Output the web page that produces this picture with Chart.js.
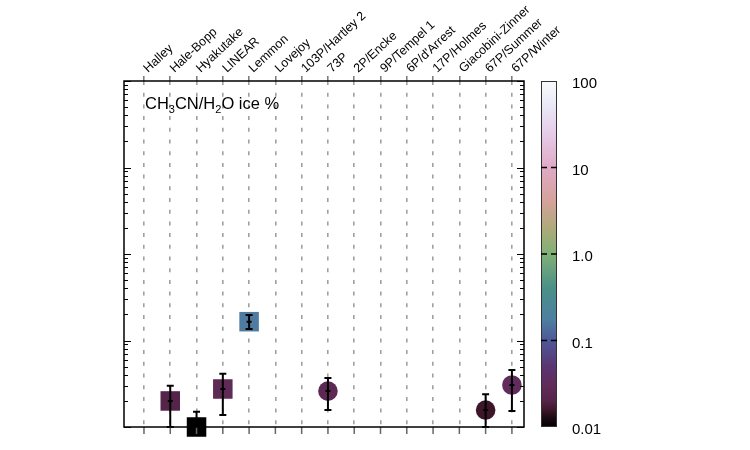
<!DOCTYPE html>
<html>
<head>
<meta charset="utf-8">
<script src="https://cdn.jsdelivr.net/npm/chart.js@4.4.1/dist/chart.umd.min.js"></script>
<style>
  html, body { margin: 0; padding: 0; background: #fff; }
</style>
</head>
<body>
<canvas id="chart" width="750" height="450"></canvas>
<script>
// comets along the top axis
const comets = ['Halley', 'Hale-Bopp', 'Hyakutake', 'LINEAR', 'Lemmon', 'Lovejoy',
  '103P/Hartley 2', '73P', '2P/Encke', '9P/Tempel 1', "6P/d'Arrest", '17P/Holmes',
  'Giacobini-Zinner', '67P/Summer', '67P/Winter'];

// CH3CN/H2O ice % (null = no measurement)
const ratio   = [null, 0.020, 0.010, 0.0275, 0.165, null, null, 0.026, null, null, null, null, null, 0.0157, 0.0306];
const errLow  = [null, 0.010, 0.010, 0.0138, 0.136, null, null, 0.0157, null, null, null, null, null, 0.010, 0.0153];
const errHigh = [null, 0.030, 0.015, 0.0413, 0.197, null, null, 0.0368, null, null, null, null, null, 0.0239, 0.0456];

// colour bar ticks
const barTicks = [0.01, 0.1, 1, 10, 100];
const barLabels = ['0.01', '0.1', '1.0', '10', '100'];

const FONT = "'Liberation Sans', Arial, Helvetica, sans-serif";
const markerShape = ['rect', 'rect', 'rect', 'rect', 'rect', 'rect', 'circle', 'circle',
  'circle', 'circle', 'circle', 'circle', 'circle', 'circle', 'circle'];

// colour map stops: position on log scale (0 = 0.01, 1 = 100)
const cmap = [
  [0.000, '#000000'],
  [0.028, '#1c0b14'],
  [0.050, '#40172b'],
  [0.075, '#55244a'],
  [0.120, '#612c5a'],
  [0.175, '#5a3572'],
  [0.250, '#4f5799'],
  [0.310, '#4e7fa0'],
  [0.400, '#4a9088'],
  [0.500, '#80b076'],
  [0.575, '#aeaa7a'],
  [0.650, '#d4a29a'],
  [0.750, '#dfaac6'],
  [0.850, '#e6cce8'],
  [0.930, '#eae8f6'],
  [1.000, '#f8fbfc']
];

function hexRgb(h) {
  return [parseInt(h.slice(1, 3), 16), parseInt(h.slice(3, 5), 16), parseInt(h.slice(5, 7), 16)];
}

function colorFor(v) {
  const t = Math.min(1, Math.max(0, (Math.log10(v) + 2) / 4));
  for (let i = 1; i < cmap.length; i++) {
    if (t <= cmap[i][0]) {
      const a = cmap[i - 1], b = cmap[i];
      const f = (t - a[0]) / (b[0] - a[0]);
      const ca = hexRgb(a[1]), cb = hexRgb(b[1]);
      const c = ca.map((x, k) => Math.round(x + (cb[k] - x) * f));
      return `rgb(${c[0]},${c[1]},${c[2]})`;
    }
  }
  return cmap[cmap.length - 1][1];
}

const idx = ratio.map((v, i) => i).filter(i => ratio[i] !== null);

const extras = {
  id: 'extras',
  afterDatasetsDraw(chart) {
    const ctx = chart.ctx;
    const xs = chart.scales.x, ys = chart.scales.y;
    ctx.save();
    ctx.strokeStyle = '#000';
    ctx.lineWidth = 2;
    idx.forEach(i => {
      const x = xs.getPixelForValue(i);
      const y0 = ys.getPixelForValue(errLow[i]);
      const y1 = ys.getPixelForValue(errHigh[i]);
      const yc = ys.getPixelForValue(ratio[i]);
      ctx.beginPath();
      ctx.moveTo(x, y0); ctx.lineTo(x, y1);
      ctx.moveTo(x - 3.5, y0); ctx.lineTo(x + 3.5, y0);
      ctx.moveTo(x - 3.5, y1); ctx.lineTo(x + 3.5, y1);
      ctx.moveTo(x - 2.5, yc); ctx.lineTo(x + 2.5, yc);
      ctx.stroke();
    });
    ctx.restore();
  },
  afterDraw(chart) {
    const ctx = chart.ctx;
    const a = chart.chartArea;
    const xs = chart.scales.x, ys = chart.scales.y;
    ctx.save();

    // inward log ticks on left and right
    ctx.strokeStyle = '#000';
    ctx.lineWidth = 1;
    for (let d = -2; d <= 2; d++) {
      for (let k = 1; k <= 9; k++) {
        const v = k * Math.pow(10, d);
        if (v > 100) break;
        const y = Math.round(ys.getPixelForValue(v)) + 0.5;
        const len = k === 1 ? 7 : 4;
        ctx.beginPath();
        ctx.moveTo(a.left, y); ctx.lineTo(a.left + len, y);
        ctx.moveTo(a.right, y); ctx.lineTo(a.right - len, y);
        ctx.stroke();
      }
    }

    // bottom ticks (outward)
    ctx.strokeStyle = '#666';
    ctx.lineWidth = 1.5;
    comets.forEach((c, i) => {
      const x = xs.getPixelForValue(i);
      ctx.beginPath();
      ctx.moveTo(x, a.bottom); ctx.lineTo(x, a.bottom + 7);
      ctx.stroke();
    });

    // frame
    ctx.strokeStyle = '#000';
    ctx.lineWidth = 1.5;
    ctx.strokeRect(a.left, a.top, a.right - a.left, a.bottom - a.top);

    // colour bar
    const bx = 541, bw = 16;
    const top = ys.getPixelForValue(100), bot = ys.getPixelForValue(0.01);
    const g = ctx.createLinearGradient(0, bot, 0, top);
    cmap.forEach(s => g.addColorStop(s[0], s[1]));
    ctx.fillStyle = g;
    ctx.fillRect(bx, top, bw, bot - top);
    ctx.strokeStyle = '#333';
    ctx.lineWidth = 1;
    ctx.strokeRect(bx + 0.5, top + 0.5, bw - 1, bot - top - 1);
    ctx.fillStyle = '#000';
    ctx.font = '15px ' + FONT;
    ctx.textAlign = 'left';
    ctx.textBaseline = 'middle';
    barTicks.forEach((v, i) => {
      const y = ys.getPixelForValue(v);
      if (v > 0.01 && v < 100) {
        ctx.strokeStyle = '#000';
        ctx.lineWidth = 1.5;
        ctx.beginPath();
        ctx.moveTo(bx, y); ctx.lineTo(bx + 6, y);
        ctx.moveTo(bx + bw - 6, y); ctx.lineTo(bx + bw, y);
        ctx.stroke();
      }
      ctx.fillText(barLabels[i], 572, y + 3);
    });

    // label with subscripts
    const parts = [['CH', 0], ['3', 1], ['CN/H', 0], ['2', 1], ['O ice %', 0]];
    let tx = 145;
    const ty = 109;
    ctx.textBaseline = 'alphabetic';
    parts.forEach(p => {
      ctx.font = (p[1] ? '11px ' : '16.5px ') + FONT;
      ctx.fillText(p[0], tx, ty + (p[1] ? 4 : 0));
      tx += ctx.measureText(p[0]).width;
    });
    ctx.restore();
  }
};

new Chart(document.getElementById('chart'), {
  type: 'scatter',
  data: {
    datasets: [{
      data: idx.map(i => ({ x: i, y: ratio[i] })),
      pointStyle: idx.map(i => markerShape[i]),
      pointRadius: idx.map(i => markerShape[i] === 'rect' ? 13.8 : 9.8),
      pointHoverRadius: idx.map(i => markerShape[i] === 'rect' ? 13.8 : 9.8),
      backgroundColor: idx.map(i => colorFor(ratio[i])),
      borderWidth: 0,
      clip: false
    }]
  },
  plugins: [extras],
  options: {
    responsive: false,
    animation: false,
    devicePixelRatio: 1,
    layout: { padding: { left: 124, right: 226, top: 0, bottom: 23 } },
    plugins: { legend: { display: false }, tooltip: { enabled: false } },
    scales: {
      x: {
        type: 'linear',
        position: 'top',
        min: -0.76,
        max: 14.46,
        afterBuildTicks: s => { s.ticks = comets.map((c, i) => ({ value: i })); },
        afterFit: s => { s.height = 81; },
        ticks: {
          callback: v => comets[v],
          minRotation: 43,
          maxRotation: 43,
          autoSkip: false,
          padding: 0,
          labelOffset: 12,
          color: '#000',
          font: { family: FONT, size: 12.5 }
        },
        grid: {
          color: '#a0a0a0',
          lineWidth: 1.6,
          tickLength: 5,
          tickColor: '#777',
          tickWidth: 1.5,
          borderDash: [4, 7.7]
        },
        border: { display: false, dash: [4, 7.7] }
      },
      y: {
        type: 'logarithmic',
        min: 0.01,
        max: 100,
        display: false
      }
    }
  }
});
</script>
</body>
</html>
